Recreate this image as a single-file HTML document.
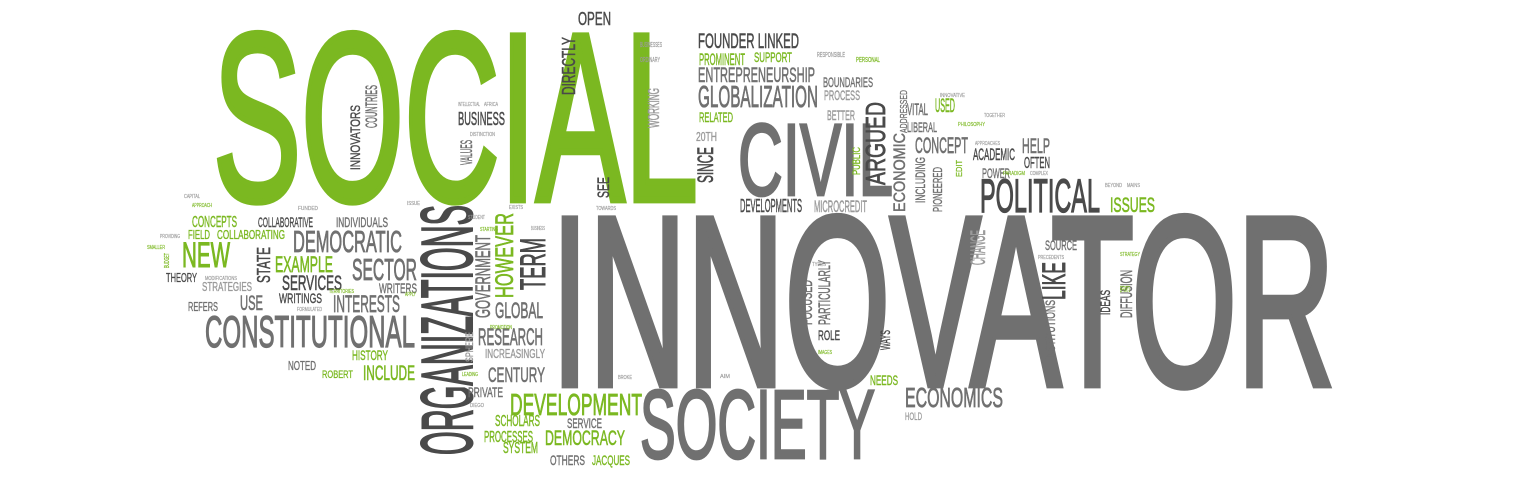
<!DOCTYPE html>
<html><head><meta charset="utf-8"><style>
html,body{margin:0;padding:0;background:#fff;}
svg{display:block;}
text{font-family:"Liberation Sans Narrow","Liberation Sans",sans-serif;font-weight:normal;}
</style></head>
<body>
<svg id="cloud" width="1520" height="480" viewBox="0 0 1520 480" xmlns="http://www.w3.org/2000/svg"></svg>
<script>
// word, x1, y1, x2, y2, color key, rotated
const words = [
["SOCIAL",213,29,698,200,"g",0],
["INNOVATOR",551,212,1335,385,"m",0],
["SOCIETY",640,388,875,458,"m",0],
["CIVIL",738,122,893,195,"m",0],
["ORGANIZATIONS",420,205,472,455,"d",1],
["CONSTITUTIONAL",205,315,415,347,"m",0],
["POLITICAL",980,178,1100,212,"d",0],
["DEMOCRATIC",293,230,402,252,"m",0],
["SECTOR",352,258,417,280,"m",0],
["NEW",182,242,230,267,"g",0],
["EXAMPLE",275,256,333,272,"g",0],
["SERVICES",282,275,342,290,"d",0],
["INTERESTS",333,295,400,312,"m",0],
["USE",240,295,263,310,"m",0],
["STATE",257,247,270,283,"d",1],
["GLOBAL",495,302,543,318,"m",0],
["RESEARCH",478,328,543,345,"m",0],
["CENTURY",488,367,545,382,"m",0],
["HOWEVER",495,213,513,298,"g",1],
["TERM",520,238,545,290,"d",1],
["GOVERNMENT",475,235,490,318,"m",1],
["DEVELOPMENT",510,393,642,415,"g",0],
["DEMOCRACY",545,430,625,445,"g",0],
["INCLUDE",363,365,415,380,"g",0],
["HISTORY",352,350,388,360,"g",0],
["COLLABORATIVE",258,217,313,227,"d",0],
["INDIVIDUALS",336,217,388,227,"m",0],
["COLLABORATING",217,230,285,239,"g",0],
["FIELD",188,230,210,239,"g",0],
["CONCEPTS",192,216,237,227,"g",0],
["THEORY",166,273,197,282,"d",0],
["STRATEGIES",202,282,252,291,"l",0],
["REFERS",188,302,218,311,"m",0],
["WRITINGS",279,293,322,303,"d",0],
["WRITERS",379,283,417,293,"m",0],
["NOTED",288,361,316,370,"m",0],
["ROBERT",322,370,353,378,"g",0],
["SPHERE",465,332,473,362,"l",1],
["INCREASINGLY",485,349,545,358,"l",0],
["PRIVATE",468,387,503,397,"m",0],
["SCHOLARS",495,415,540,426,"g",0],
["PROCESSES",484,431,533,442,"g",0],
["SYSTEM",503,442,538,453,"g",0],
["OTHERS",550,455,585,465,"m",0],
["JACQUES",592,455,630,465,"g",0],
["SERVICE",567,418,602,428,"m",0],
["OPEN",578,12,611,25,"d",0],
["DIRECTLY",562,37,575,95,"d",1],
["FOUNDER LINKED",698,33,799,48,"d",0],
["PROMINENT",699,53,745,65,"g",0],
["SUPPORT",754,52,792,62,"g",0],
["ENTREPRENEURSHIP",698,67,815,82,"m",0],
["GLOBALIZATION",698,85,818,107,"m",0],
["BOUNDARIES",823,77,873,87,"m",0],
["PROCESS",824,90,860,100,"l",0],
["RELATED",699,112,733,122,"g",0],
["BETTER",827,110,855,120,"l",0],
["20TH",696,132,717,141,"l",0],
["SINCE",697,147,713,183,"d",1],
["WORKING",648,88,659,128,"l",1],
["SEE",597,177,609,198,"d",1],
["ARGUED",865,102,885,185,"d",1],
["ECONOMIC",893,133,905,212,"m",1],
["ADDRESSED",900,90,907,133,"m",1],
["INCLUDING",915,157,925,203,"m",1],
["PIONEERED",933,167,942,212,"m",1],
["PUBLIC",852,147,860,175,"g",1],
["EDIT",956,160,962,177,"g",1],
["VITAL",907,103,928,115,"m",0],
["USED",935,98,955,112,"g",0],
["LIBERAL",907,122,937,132,"m",0],
["CONCEPT",915,137,968,153,"m",0],
["ACADEMIC",973,148,1015,160,"d",0],
["HELP",1022,138,1050,153,"m",0],
["OFTEN",1024,157,1050,168,"d",0],
["POWER",982,168,1010,178,"m",0],
["DEVELOPMENTS",740,199,802,212,"d",0],
["MICROCREDIT",814,200,867,212,"l",0],
["ISSUES",1110,197,1155,212,"g",0],
["SOURCE",1045,240,1077,250,"m",0],
["LIKE",1042,262,1065,300,"d",1],
["INSTITUTIONS",1045,300,1055,360,"m",1],
["IDEAS",1100,290,1110,315,"d",1],
["DIFFUSION",1120,270,1132,318,"m",1],
["CHANGE",970,230,985,265,"l",1],
["ECONOMICS",905,387,1003,407,"m",0],
["HOLD",905,412,922,420,"l",0],
["NEEDS",870,375,898,385,"g",0],
["WAYS",880,330,890,350,"d",1],
["ROLE",818,330,840,340,"d",0],
["FOCUSED",800,280,812,325,"m",1],
["PARTICULARLY",818,260,830,325,"m",1],
["INNOVATORS",350,105,360,170,"d",1],
["COUNTRIES",365,85,377,128,"m",1],
["BUSINESS",458,112,505,125,"d",0],
["VALUES",460,140,472,165,"m",1],
["BUSINESSES",640,42,662,47,"l",0],
["ORDINARY",640,57,660,62,"l",0],
["INTELLECTUAL",458,102,480,106,"l",0],
["AFRICA",484,102,498,106,"l",0],
["DISTINCTION",470,132,495,136,"l",0],
["RESPONSIBLE",817,52,845,57,"l",0],
["PERSONAL",856,57,880,62,"g",0],
["INNOVATIVE",940,93,965,97,"l",0],
["PHILOSOPHY",958,122,985,126,"g",0],
["TOGETHER",984,113,1005,117,"l",0],
["APPROACHES",975,141,1000,145,"l",0],
["PARADIGM",1003,171,1025,175,"g",0],
["COMPLEX",1030,171,1048,175,"l",0],
["BEYOND",1105,183,1122,187,"l",0],
["MAINS",1127,183,1140,187,"l",0],
["CAPITAL",184,194,200,198,"l",0],
["APPROACH",192,203,212,207,"g",0],
["FUNDED",298,206,318,210,"l",0],
["ISSUE",407,201,420,205,"l",0],
["STUDENT",468,215,485,219,"l",0],
["EXISTS",509,205,523,209,"l",0],
["TOWARDS",596,206,616,210,"l",0],
["STARTING",480,227,498,231,"g",0],
["BUSINESS",531,226,545,230,"l",0],
["TYPES",812,262,826,266,"l",0],
["PROMOTION",490,325,512,329,"g",0],
["LEADING",462,372,478,376,"g",0],
["BROKE",618,375,632,379,"l",0],
["DIEGO",470,403,484,407,"l",0],
["IMAGES",818,350,832,354,"g",0],
["AIM",720,374,730,378,"l",0],
["PRECEDENTS",1038,255,1064,259,"l",0],
["STRATEGY",1120,252,1140,256,"g",0],
["EFFORTS",1120,286,1130,292,"g",0],
["MODIFICATIONS",205,276,237,280,"l",0],
["TERRITORIES",329,289,354,293,"g",0],
["APPLY",405,292,416,296,"g",0],
["FORMULATED",297,307,322,311,"l",0],
["PROVIDING",160,234,180,238,"l",0],
["SMALLER",147,245,165,249,"g",0],
["BUDGET",164,253,169,268,"g",1]
];
const colors = {g:"#7bb821", m:"#707070", d:"#4a4a4a", l:"#9a9a9a"};
const CAP = 0.716;
const svg = document.getElementById('cloud');
const NS = "http://www.w3.org/2000/svg";
words.forEach(function(w){
  const word = w[0], x1 = w[1], y1 = w[2], x2 = w[3], y2 = w[4], col = colors[w[5]], rot = w[6];
  const t = document.createElementNS(NS, 'text');
  t.textContent = word;
  t.setAttribute('fill', col);
  t.setAttribute('stroke', col);
  t.setAttribute('lengthAdjust', 'spacingAndGlyphs');
  let h;
  if (!rot) {
    h = y2 - y1;
    t.setAttribute('x', x1);
    t.setAttribute('y', y2);
    t.setAttribute('textLength', x2 - x1);
  } else {
    h = x2 - x1;
    t.setAttribute('x', 0);
    t.setAttribute('y', 0);
    t.setAttribute('transform', 'translate(' + x2 + ',' + y2 + ') rotate(-90)');
    t.setAttribute('textLength', y2 - y1);
  }
  const fs = h / CAP;
  t.setAttribute('font-size', fs.toFixed(2));
  t.setAttribute('stroke-width', (fs * 0.028).toFixed(2));
  
  
  svg.appendChild(t);
});
</script>
</body></html>
